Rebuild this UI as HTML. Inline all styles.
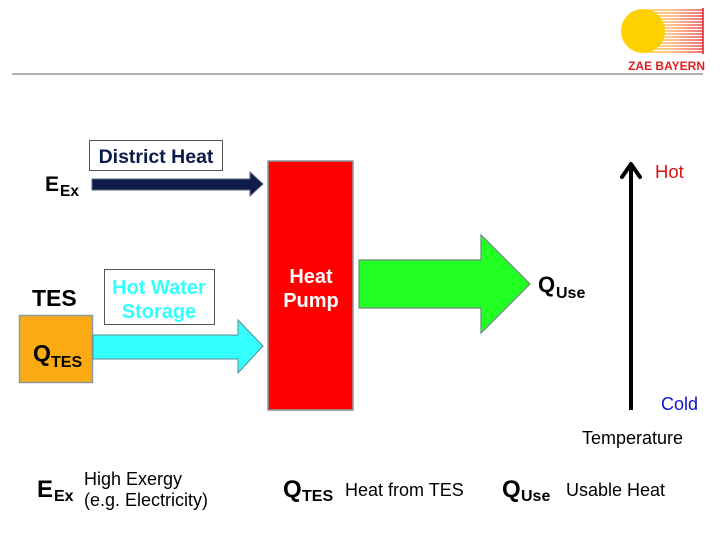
<!DOCTYPE html>
<html><head><meta charset="utf-8">
<style>
html,body{margin:0;padding:0;background:#fff;width:720px;height:540px;overflow:hidden}
svg{display:block;font-family:"Liberation Sans",Arial,sans-serif}
</style></head><body>
<svg width="720" height="540" viewBox="0 0 720 540" xmlns="http://www.w3.org/2000/svg">
<defs>
<linearGradient id="lg" gradientUnits="userSpaceOnUse" x1="640" x2="703" y1="0" y2="0">
<stop offset="0" stop-color="#ffd000"/><stop offset="0.5" stop-color="#ffa050"/><stop offset="1" stop-color="#e8202a"/>
</linearGradient>
</defs>
<g stroke="url(#lg)" stroke-width="1.2">
<line x1="640" y1="10" x2="703" y2="10"/><line x1="640" y1="13" x2="703" y2="13"/><line x1="640" y1="16" x2="703" y2="16"/><line x1="640" y1="19" x2="703" y2="19"/><line x1="640" y1="22" x2="703" y2="22"/><line x1="640" y1="25" x2="703" y2="25"/><line x1="640" y1="28" x2="703" y2="28"/><line x1="640" y1="31" x2="703" y2="31"/><line x1="640" y1="34" x2="703" y2="34"/><line x1="640" y1="37" x2="703" y2="37"/><line x1="640" y1="40" x2="703" y2="40"/><line x1="640" y1="43" x2="703" y2="43"/><line x1="640" y1="46" x2="703" y2="46"/><line x1="640" y1="49" x2="703" y2="49"/><line x1="640" y1="52" x2="703" y2="52"/>
</g>
<line x1="703" y1="8" x2="703" y2="54" stroke="#e02020" stroke-width="1.5"/>
<circle cx="643" cy="31" r="22" fill="#ffd000"/>
<text x="705" y="70" font-size="12" font-weight="bold" fill="#e02020" text-anchor="end">ZAE BAYERN</text>
<line x1="12" y1="74" x2="703" y2="74" stroke="#999" stroke-width="1.5"/>

<rect x="89.5" y="140.5" width="133" height="30" fill="#fff" stroke="#555"/>
<text x="156" y="163" font-size="19.5" font-weight="bold" fill="#0d1a4a" text-anchor="middle">District Heat</text>
<polygon points="92,179 250,179 250,172 263,184 250,196 250,190 92,190" fill="#0d1a4a" stroke="#5a6a80" stroke-width="1"/>
<text x="45" y="191" font-size="21" font-weight="bold">E</text>
<text x="60" y="196" font-size="15.5" font-weight="bold">Ex</text>

<text x="32" y="306" font-size="23" font-weight="bold">TES</text>
<rect x="19.5" y="315.5" width="73" height="67" fill="#fbaa14" stroke="#8a9aa0" stroke-width="1.5"/>
<text x="33" y="361" font-size="23" font-weight="bold">Q</text>
<text x="51" y="367" font-size="16" font-weight="bold">TES</text>
<rect x="104.5" y="269.5" width="110" height="55" fill="#fff" stroke="#555"/>
<text x="159" y="294" font-size="20" font-weight="bold" fill="#33ffff" text-anchor="middle">Hot Water</text>
<text x="159" y="318" font-size="20" font-weight="bold" fill="#33ffff" text-anchor="middle">Storage</text>
<polygon points="93,335 238,335 238,320 263,346 238,373 238,359 93,359" fill="#33ffff" stroke="#5a8a90" stroke-width="1"/>

<rect x="268" y="161" width="85" height="249" fill="#ff0000" stroke="#8a9a9a" stroke-width="1.5"/>
<text x="311" y="283" font-size="20" font-weight="bold" fill="#fff" text-anchor="middle">Heat</text>
<text x="311" y="307" font-size="20" font-weight="bold" fill="#fff" text-anchor="middle">Pump</text>

<polygon points="359,260 481,260 481,235 530,284 481,333 481,308 359,308" fill="#22ff22" stroke="#6a8a80" stroke-width="1.2"/>
<text x="538" y="292" font-size="22" font-weight="bold">Q</text>
<text x="556" y="298" font-size="16" font-weight="bold">Use</text>

<line x1="631" y1="410" x2="631" y2="164" stroke="#000" stroke-width="4"/>
<polyline points="622,177 631,164 640,177" fill="none" stroke="#000" stroke-width="4" stroke-linecap="round" stroke-linejoin="round"/>
<text x="655" y="178" font-size="18.5" fill="#e01010">Hot</text>
<text x="661" y="410" font-size="18" fill="#1010d0">Cold</text>
<text x="582" y="444" font-size="18">Temperature</text>

<text x="37" y="497" font-size="24" font-weight="bold">E</text>
<text x="54" y="501" font-size="16" font-weight="bold">Ex</text>
<text x="84" y="485" font-size="18">High Exergy</text>
<text x="84" y="506" font-size="18">(e.g. Electricity)</text>
<text x="283" y="497" font-size="24" font-weight="bold">Q</text>
<text x="302" y="501" font-size="16" font-weight="bold">TES</text>
<text x="345" y="496" font-size="18">Heat from TES</text>
<text x="502" y="497" font-size="24" font-weight="bold">Q</text>
<text x="521" y="501" font-size="16" font-weight="bold">Use</text>
<text x="566" y="496" font-size="18">Usable Heat</text>
</svg>
</body></html>
